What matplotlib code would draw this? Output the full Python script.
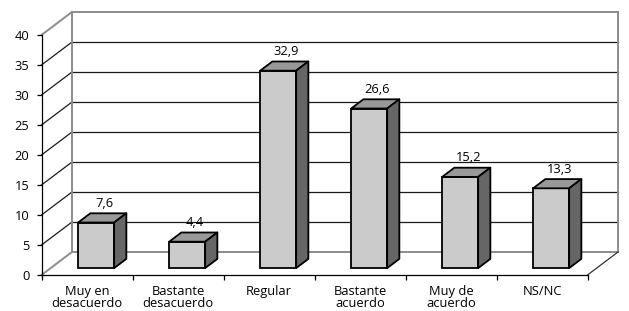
import matplotlib
matplotlib.use("Agg")
import matplotlib.pyplot as plt
from matplotlib.patches import Polygon

categories = ["Muy en\ndesacuerdo", "Bastante\ndesacuerdo", "Regular", "Bastante\nacuerdo", "Muy de\nacuerdo", "NS/NC"]
values = [7.6, 4.4, 32.9, 26.6, 15.2, 13.3]
value_labels = ["7,6", "4,4", "32,9", "26,6", "15,2", "13,3"]
yticks = [0, 5, 10, 15, 20, 25, 30, 35, 40]

plt.rcParams['font.family'] = ['Open Sans', 'DejaVu Sans']
FS = 9.3

W, H = 629, 311
fig = plt.figure(figsize=(W / 100, H / 100), dpi=100)
x0, x1, y0, y1 = 41.5, 587.5, 275, 35
ax = fig.add_axes([x0 / W, (H - y0) / H, (x1 - x0) / W, (y0 - y1) / H])
n = len(categories)
ax.set_xlim(0, n)
ax.set_ylim(0, 40)

PX = (x1 - x0) / n
PY = (y0 - y1) / 40
DX = 30.5 / PX      # depth offset of back wall (data units)
DY = 23 / PY
f0 = 0.3            # depth fraction of bar front
fb = 0.4            # depth fraction of bar thickness
bw = 36 / PX

frame = dict(color='#8c8c8c', lw=1.4, clip_on=False, zorder=1, solid_capstyle='projecting')
grid = dict(color='#1a1a1a', lw=0.9, clip_on=False, zorder=1)

# back wall gridlines and left-wall diagonals
for v in yticks[1:-1]:
    ax.plot([DX, n + DX], [v + DY, v + DY], **grid)
    ax.plot([0, DX], [v, v + DY], **grid)
# frame
ax.plot([DX, n + DX], [40 + DY, 40 + DY], **frame)
ax.plot([0, DX], [40, 40 + DY], **frame)
ax.plot([DX, DX], [DY, 40 + DY], **frame)
ax.plot([n + DX, n + DX], [DY, 40 + DY], **frame)
ax.plot([DX, n + DX], [DY, DY], **frame)
ax.plot([0, DX], [0, DY], **frame)
ax.plot([n, n + DX], [0, DY], color='#333333', lw=0.9, clip_on=False, zorder=1)

# bars
centers = [i + 0.5 + f0 * DX for i in range(n)]
base = f0 * DY
ax.bar(centers, values, width=bw, bottom=base, color='#cbcbcb',
       edgecolor='black', linewidth=1.3, zorder=3)
ox, oy = fb * DX, fb * DY
for c, v, lab in zip(centers, values, value_labels):
    xl, xr = c - bw / 2, c + bw / 2
    top = base + v
    ax.add_patch(Polygon([(xl, top), (xr, top), (xr + ox, top + oy), (xl + ox, top + oy)],
                         closed=True, facecolor='#999999', edgecolor='black',
                         linewidth=1.3, zorder=3, joinstyle='round', clip_on=False))
    ax.add_patch(Polygon([(xr, base), (xr + ox, base + oy), (xr + ox, top + oy), (xr, top)],
                         closed=True, facecolor='#666666', edgecolor='black',
                         linewidth=1.3, zorder=3, joinstyle='round', clip_on=False))
    ax.text(c + ox * 0.5 + 2 / PX, top + oy + 6.5 / PY, lab, ha='center', va='baseline',
            fontsize=FS, color='black', clip_on=False)

# axes styling
for s in ['top', 'right']:
    ax.spines[s].set_visible(False)
for s in ['left', 'bottom']:
    ax.spines[s].set_color('black')
    ax.spines[s].set_linewidth(0.9)
ax.set_yticks(yticks)
ax.set_yticklabels([str(t) for t in yticks], fontsize=FS)
ax.tick_params(axis='y', length=3.8, width=0.9, pad=5, direction='out')
ax.set_xticks(range(n + 1))
ax.set_xticklabels([])
ax.tick_params(axis='x', which='major', length=3.8, width=0.9, direction='out')
ax.set_xticks([i + 0.5 for i in range(n)], minor=True)
ax.set_xticklabels(categories, minor=True, fontsize=FS, linespacing=0.92)
ax.tick_params(axis='x', which='minor', length=0, pad=7)
ax.patch.set_visible(False)

fig.savefig("out.png", dpi=100)
